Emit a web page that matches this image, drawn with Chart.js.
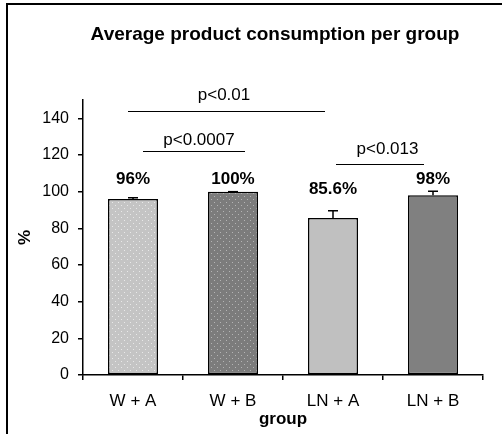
<!DOCTYPE html>
<html>
<head>
<meta charset="utf-8">
<script src="https://cdn.jsdelivr.net/npm/chart.js@4/dist/chart.umd.min.js"></script>
<style>
  html, body { margin: 0; padding: 0; background: #fff; }
</style>
</head>
<body>
<canvas id="chart" width="502" height="434"></canvas>
<script>
// Data
const groups = ['W + A', 'W + B', 'LN + A', 'LN + B'];
const means = [96, 100, 85.6, 98];
const errors = [0.7, 0, 4, 2.2];
const valueLabels = ['96%', '100%', '85.6%', '98%'];
const valueLabelLevels = [107, 107, 101.2, 107];

// significance brackets (x in category index units, y in %)
const sigLabels = ['p<0.01', 'p<0.0007', 'p<0.013'];
const sigFrom = [-0.05, 0.1, 2.03];
const sigTo = [1.92, 1.12, 2.91];
const sigLevels = [144.2, 122.2, 115.1];
const sigLabelX = [0.91, 0.66, 2.545];
const sigLabelLevels = [152.5, 127.9, 123.2];

const FONT = "'Liberation Sans', Arial, sans-serif";

function dotted(base, dot) {
  const c = document.createElement('canvas');
  c.width = 6; c.height = 6;
  const g = c.getContext('2d');
  g.fillStyle = base;
  g.fillRect(0, 0, 6, 6);
  g.fillStyle = dot;
  g.fillRect(1, 1, 1, 1);
  g.fillRect(4, 4, 1, 1);
  return g.createPattern(c, 'repeat');
}

const barFills = [dotted('#c4c4c4', '#e8e8e8'), dotted('#7c7c7c', '#b4b4b4'), '#c0c0c0', '#808080'];

const extras = {
  id: 'extras',
  beforeDraw(chart) {
    const ctx = chart.ctx;
    const area = chart.chartArea;
    ctx.save();
    ctx.fillStyle = '#fff';
    ctx.fillRect(0, 0, chart.width, chart.height);
    // frame (top + left only)
    ctx.fillStyle = '#000';
    ctx.fillRect(6, 3, chart.width - 6, 2);
    ctx.fillRect(6, 3, 2, chart.height - 3);
    // title
    ctx.font = 'bold 19px ' + FONT;
    ctx.textAlign = 'center';
    ctx.textBaseline = 'middle';
    ctx.fillText('Average product consumption per group', (area.left + area.right) / 2 - 8, 35);
    ctx.restore();
  },
  afterDatasetsDraw(chart) {
    const ctx = chart.ctx;
    const x = chart.scales.x, y = chart.scales.y;
    const meta = chart.getDatasetMeta(0);
    ctx.save();
    ctx.strokeStyle = '#000';
    ctx.fillStyle = '#000';
    ctx.lineWidth = 1.5;
    // error bars (upper only)
    meta.data.forEach((bar, i) => {
      const top = y.getPixelForValue(means[i]);
      const end = y.getPixelForValue(means[i] + errors[i]);
      ctx.beginPath();
      ctx.moveTo(bar.x, top);
      ctx.lineTo(bar.x, end);
      ctx.moveTo(bar.x - 5, end);
      ctx.lineTo(bar.x + 5, end);
      ctx.stroke();
    });
    // value labels
    ctx.font = 'bold 17px ' + FONT;
    ctx.textAlign = 'center';
    ctx.textBaseline = 'middle';
    meta.data.forEach((bar, i) => {
      ctx.fillText(valueLabels[i], bar.x, y.getPixelForValue(valueLabelLevels[i]));
    });
    // significance lines
    ctx.lineWidth = 1.2;
    ctx.font = '17px ' + FONT;
    sigLabels.forEach((lab, i) => {
      const yy = Math.round(y.getPixelForValue(sigLevels[i])) + 0.5;
      ctx.beginPath();
      ctx.moveTo(x.getPixelForValue(sigFrom[i]), yy);
      ctx.lineTo(x.getPixelForValue(sigTo[i]), yy);
      ctx.stroke();
      ctx.fillText(lab, x.getPixelForValue(sigLabelX[i]), y.getPixelForValue(sigLabelLevels[i]));
    });
    ctx.restore();
  }
};

new Chart(document.getElementById('chart'), {
  type: 'bar',
  data: {
    labels: groups,
    datasets: [{
      data: means,
      backgroundColor: barFills,
      borderColor: '#000',
      borderWidth: 1.5,
      borderSkipped: false,
      barPercentage: 0.5,
      categoryPercentage: 1
    }]
  },
  options: {
    responsive: false,
    animation: false,
    devicePixelRatio: 1,
    layout: { padding: { top: 100, right: 19, bottom: 0, left: 0 } },
    plugins: { legend: { display: false }, tooltip: { enabled: false } },
    scales: {
      x: {
        grid: { drawOnChartArea: false, drawTicks: true, tickLength: 5, color: '#000', lineWidth: 1.5, offset: true },
        border: { color: '#000', width: 1.5 },
        ticks: { color: '#000', font: { family: FONT, size: 17 }, padding: 11, maxRotation: 0 },
        title: { display: true, text: 'group', color: '#000', font: { family: FONT, size: 17, weight: 'bold' }, padding: { top: 0, bottom: 4 } },
        afterFit(s) { s.height = 59; }
      },
      y: {
        min: 0,
        max: 150,
        ticks: { stepSize: 20, includeBounds: false, color: '#000', font: { family: FONT, size: 16 }, padding: 9 },
        grid: { drawOnChartArea: false, drawTicks: true, tickLength: 5, color: '#000', lineWidth: 1.5 },
        border: { color: '#000', width: 1.5 },
        title: { display: true, text: '%', color: '#000', font: { family: FONT, size: 17, weight: 'bold' }, padding: { top: 15, bottom: 0 } },
        afterFit(s) { s.width = 83; }
      }
    }
  },
  plugins: [extras]
});
</script>
</body>
</html>
